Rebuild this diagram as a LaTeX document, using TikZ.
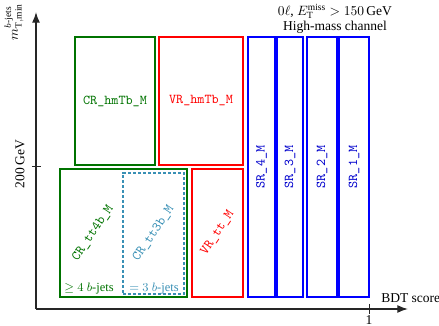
\documentclass[tikz,border=0pt]{standalone}
\usepackage{amsmath}
\usepackage{fontspec}
\setmainfont{Liberation Serif}
\usepackage{xcolor}
\usepackage{tikz}
\usetikzlibrary{arrows.meta,positioning,fit}

\begin{document}
\begin{tikzpicture}[
  x=0.026cm,
  y=-0.026cm,
  font=\normalsize,
  >=Latex,
  axis/.style={->, line width=1.1pt, draw=black!85},
  tick/.style={line width=0.6pt, draw=black!85},
  region/.style={draw, line width=0.75pt, inner sep=0pt},
  crbox/.style={region, draw=green!45!black},
  crdash/.style={region, draw=cyan!70!black, dash pattern=on 2.2pt off 1.5pt},
  vrbox/.style={region, draw=red},
  srbox/.style={region, draw=blue},
  tag/.style={font=\ttfamily, inner sep=0pt},
  tilt/.style={tag, rotate=56},
  srlabel/.style={tag, text=blue!80!black, rotate=90},
  note/.style={inner sep=0pt, anchor=base west, font=\fontsize{9.2}{11}\selectfont}
]
\useasboundingbox (0,0) rectangle (439,326);

% axes
\coordinate (origin) at (36,309);
\coordinate (ytop) at (36,12);
\coordinate (xend) at (408,309);
\draw[axis] (origin) -- (ytop);
\draw[axis] (origin) -- (xend);
\draw[tick] (32,166) -- (41,166);
\draw[tick] (369,304) -- (369,314);

\node[rotate=90] (ylabel) at (14,22) {$m_{\mathrm{T,min}}^{b\text{-jets}}$};
\node[rotate=90] (ycut) at (20,164) {200\,GeV};
\node[inner sep=0pt, anchor=base west] (xlabel) at (381,303) {BDT score};
\node (xcut) at (369,320) {1};

\node[align=center, inner sep=0pt, anchor=north] (title) at (335,4)
  {$0\ell$, $E_{\mathrm{T}}^{\mathrm{miss}} > 150\,\mathrm{GeV}$\\[-1pt]
   High-mass channel};

% high-mass-top regions
\node[crbox, fit={(75,37) (155,165)}] (crhm) {};
\node[vrbox, fit={(159,37) (243,165)}] (vrhm) {};
\node[tag, text=green!45!black] (crhmlabel) at (crhm.center) {CR\_hmTb\_M};
\node[tag, text=red] (vrhmlabel) at (vrhm.center) {VR\_hmTb\_M};

% ttbar regions
\node[crbox, fit={(60,169) (187,297)}] (crtt4b) {};
\node[crdash, fit={(123,173) (184,294)}] (crtt3b) {};
\node[vrbox, fit={(192,169) (243,297)}] (vrtt) {};
\node[tilt, text=green!45!black] (crtt4blabel) at (93,233) {CR\_tt4b\_M};
\node[tilt, text=cyan!70!black] (crtt3blabel) at (crtt3b.center) {CR\_tt3b\_M};
\node[tilt, text=red] (vrttlabel) at (vrtt.center) {VR\_tt\_M};
\node[note, text=green!45!black] (fourb) at (64,292) {$\geq 4$ $b$-jets};
\node[note, text=cyan!70!black] (threeb) at (129,292) {$=3$ $b$-jets};

% signal regions
\node[srbox, fit={(248,37) (275,297)}] (sr4) {};
\node[srbox, fit={(277,37) (303,297)}] (sr3) {};
\node[srbox, fit={(307,37) (337,297)}] (sr2) {};
\node[srbox, fit={(339,37) (369,297)}] (sr1) {};
\foreach \n in {1,2,3,4}
  \node[srlabel] (sr\n label) at (sr\n.center) {SR\_\n\_M};

\end{tikzpicture}
\end{document}
